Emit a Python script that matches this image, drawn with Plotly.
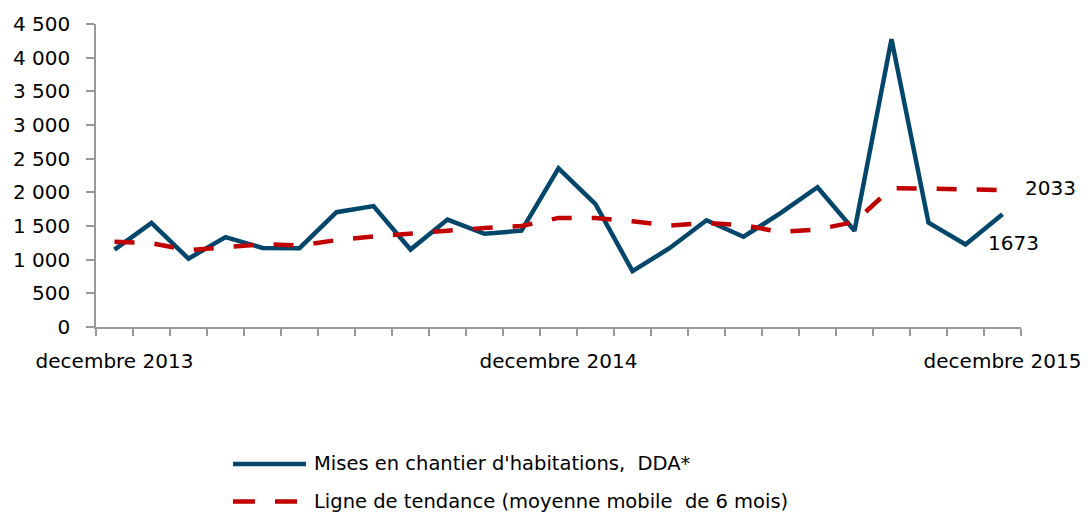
import plotly.graph_objects as go

months = ["decembre 2013", "janvier 2014", "fevrier 2014", "mars 2014", "avril 2014", "mai 2014",
          "juin 2014", "juillet 2014", "aout 2014", "septembre 2014", "octobre 2014", "novembre 2014",
          "decembre 2014", "janvier 2015", "fevrier 2015", "mars 2015", "avril 2015", "mai 2015",
          "juin 2015", "juillet 2015", "aout 2015", "septembre 2015", "octobre 2015", "novembre 2015",
          "decembre 2015"]
mises_en_chantier = [1150, 1546, 1015, 1335, 1175, 1170, 1705, 1795, 1150, 1595, 1385, 1430,
                     2355, 1825, 830, 1170, 1585, 1340, 1690, 2075, 1430, 4275, 1550, 1225, 1673]
tendance = [1265, 1245, 1140, 1180, 1230, 1210, 1290, 1345, 1380, 1430, 1470, 1500,
            1620, 1620, 1570, 1505, 1545, 1512, 1410, 1450, 1560, 2060, 2055, 2040, 2033]
y_ticks = [0, 500, 1000, 1500, 2000, 2500, 3000, 3500, 4000, 4500]
y_ticktext = ["0", "500", "1 000", "1 500", "2 000", "2 500", "3 000", "3 500", "4 000", "4 500"]
x_label_idx = [0, 12, 24]
series_names = ["Mises en chantier d'habitations,  DDA*",
                "Ligne de tendance (moyenne mobile  de 6 mois)"]

FONT = "DejaVu Sans"
BLUE = "#02476b"
RED = "#c00000"
idx = list(range(len(months)))

fig = go.Figure()
fig.add_trace(go.Scatter(
    x=idx, y=mises_en_chantier, mode="lines", name=series_names[0],
    line=dict(color=BLUE, width=4.5),
    text=months, hovertemplate="%{text}: %{y}<extra></extra>"))
fig.add_trace(go.Scatter(
    x=idx, y=tendance, mode="lines", name=series_names[1],
    line=dict(color=RED, width=4.5, dash="20px,20px"),
    text=months, hovertemplate="%{text}: %{y}<extra></extra>"))

# data labels
fig.add_annotation(x=idx[-1], y=tendance[-1], text=str(tendance[-1]), showarrow=False,
                   xanchor="left", yanchor="middle", xshift=20, yshift=2,
                   font=dict(family=FONT, size=20, color="#000"))
fig.add_annotation(x=idx[-1], y=mises_en_chantier[-1], text=str(mises_en_chantier[-1]),
                   showarrow=False, xanchor="center", yanchor="middle", xshift=11, yshift=-29,
                   font=dict(family=FONT, size=20, color="#000"))

# legend (drawn manually below the plot)
leg_x0, leg_x1, leg_tx = 0.1481, 0.2270, 0.2346
leg_y = [-0.452, -0.576]
fig.add_shape(type="line", xref="paper", yref="paper", x0=leg_x0, x1=leg_x1,
              y0=leg_y[0], y1=leg_y[0], line=dict(color=BLUE, width=4.5))
fig.add_shape(type="line", xref="paper", yref="paper", x0=leg_x0, x1=leg_x1,
              y0=leg_y[1], y1=leg_y[1], line=dict(color=RED, width=4.5, dash="22px,20px"))
for name, yy in zip(series_names, leg_y):
    fig.add_annotation(xref="paper", yref="paper", x=leg_tx, y=yy, text=name,
                       showarrow=False, xanchor="left", yanchor="middle", borderpad=0,
                       font=dict(family=FONT, size=19.5, color="#000"))

fig.update_layout(
    width=1091, height=513,
    margin=dict(l=96, r=70, t=24, b=186, autoexpand=False),
    paper_bgcolor="white", plot_bgcolor="white",
    font=dict(family=FONT, size=20, color="#000"),
    showlegend=False,
)
fig.update_xaxes(
    range=[-0.5, len(months) - 0.5],
    tickvals=x_label_idx, ticktext=[months[i] for i in x_label_idx],
    ticks="", showgrid=False, zeroline=False, automargin=False,
    showline=True, linecolor="#999", linewidth=1.5,
    ticklabelstandoff=15,
    minor=dict(tickvals=[i - 0.5 for i in range(len(months) + 1)], ticks="outside",
               ticklen=7, tickcolor="#999", tickwidth=1.5, showgrid=False),
)
fig.update_yaxes(
    range=[0, 4500], tickvals=y_ticks, ticktext=y_ticktext,
    ticks="outside", ticklen=8, tickcolor="#999", tickwidth=1.5,
    showgrid=False, zeroline=False, automargin=False,
    showline=True, linecolor="#999", linewidth=1.5,
    ticklabelstandoff=12,
)

fig.write_html("out.html", config={"displayModeBar": False},
               post_script="document.body.style.margin='0';document.body.style.overflow='hidden';")
